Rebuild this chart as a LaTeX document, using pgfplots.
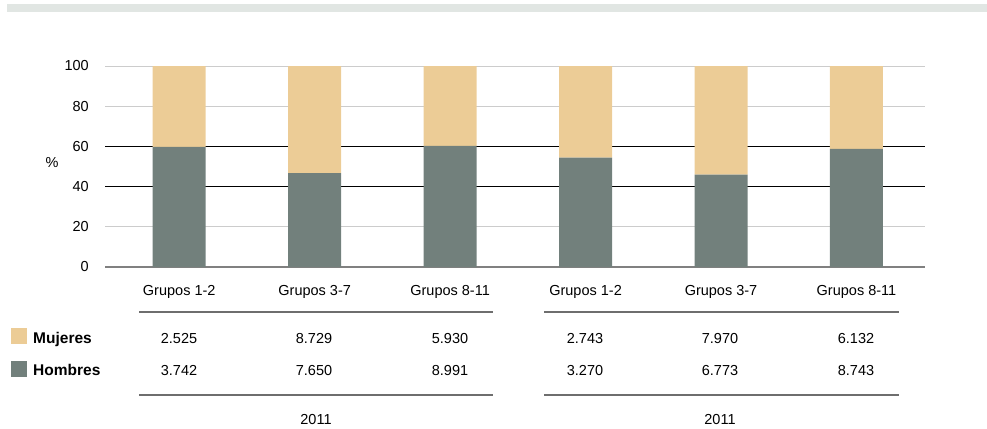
\documentclass[border=0pt]{standalone}
\usepackage{fontspec}
\setmainfont{Liberation Sans}
\usepackage{pgfplots}
\pgfplotsset{compat=1.18}
\definecolor{muj}{RGB}{236,204,150}
\definecolor{hom}{RGB}{114,128,124}
\definecolor{band}{RGB}{225,230,227}
\definecolor{gridc}{RGB}{204,204,204}
\definecolor{zeroc}{RGB}{128,128,128}
\definecolor{rulec}{RGB}{110,110,110}
\newcommand\fs{\fontsize{14.5pt}{17pt}\selectfont}
\newcommand\fb{\fontsize{15.5pt}{18pt}\selectfont\bfseries}
\begin{document}
\begin{tikzpicture}[x=1pt,y=1pt]
\path[use as bounding box] (0,0) rectangle (987,-428);
\fill[band] (7,-4) rectangle (987,-12);
\begin{axis}[at={(105pt,-267pt)}, anchor=south west, scale only axis,
  width=820pt, height=201pt,
  xmin=-0.548, xmax=5.506, ymin=0, ymax=100,
  ybar stacked, bar width=53pt,
  axis line style={draw=none}, major tick length=0pt,
  xtick={0,...,5},
  xticklabels={Grupos 1-2,Grupos 3-7,Grupos 8-11,Grupos 1-2,Grupos 3-7,Grupos 8-11},
  ytick={0,20,...,100},
  ymajorgrids, grid style={gridc, line width=1pt},
  tick label style={font=\fs},
  /pgf/number format/assume math mode=true,
  yticklabel style={anchor=east, inner sep=0pt, xshift=-16pt},
  xticklabel style={anchor=base, inner sep=0pt, yshift=-28pt},
  clip=false]
\addplot[fill=hom, draw=none] coordinates {(0,59.71) (1,46.71) (2,60.26) (3,54.38) (4,45.94) (5,58.78)};
\addplot[fill=muj, draw=none] coordinates {(0,40.29) (1,53.29) (2,39.74) (3,45.62) (4,54.06) (5,41.22)};
\draw[zeroc, line width=1.5pt] (axis cs:-0.548,0) -- (axis cs:5.506,0);
\draw[black, line width=1.2pt] (axis cs:-0.548,40) -- (axis cs:5.506,40);
\draw[black, line width=1.2pt] (axis cs:-0.548,60) -- (axis cs:5.506,60);
\end{axis}
\node[font=\fs] at (52,-163) {\%};
% table rules
\draw[rulec, line width=1.3pt] (139,-312) -- (493,-312);
\draw[rulec, line width=1.3pt] (544,-312) -- (899,-312);
\draw[rulec, line width=1.3pt] (139,-395) -- (493,-395);
\draw[rulec, line width=1.3pt] (544,-395) -- (899,-395);
% legend
\fill[muj] (11,-328) rectangle (27,-344);
\fill[hom] (11,-361) rectangle (27,-377);
\node[font=\fb, anchor=base west, inner sep=0pt] at (33,-343) {Mujeres};
\node[font=\fb, anchor=base west, inner sep=0pt] at (33,-375) {Hombres};
% values
\foreach \x/\m/\h in {179/2.525/3.742, 314/8.729/7.650, 450/5.930/8.991, 585/2.743/3.270, 720/7.970/6.773, 856/6.132/8.743}{
  \node[font=\fs, anchor=base, inner sep=0pt] at (\x,-343) {\m};
  \node[font=\fs, anchor=base, inner sep=0pt] at (\x,-375) {\h};
}
\node[font=\fs, anchor=base, inner sep=0pt] at (316,-424) {2011};
\node[font=\fs, anchor=base, inner sep=0pt] at (720,-424) {2011};
\end{tikzpicture}
\end{document}
